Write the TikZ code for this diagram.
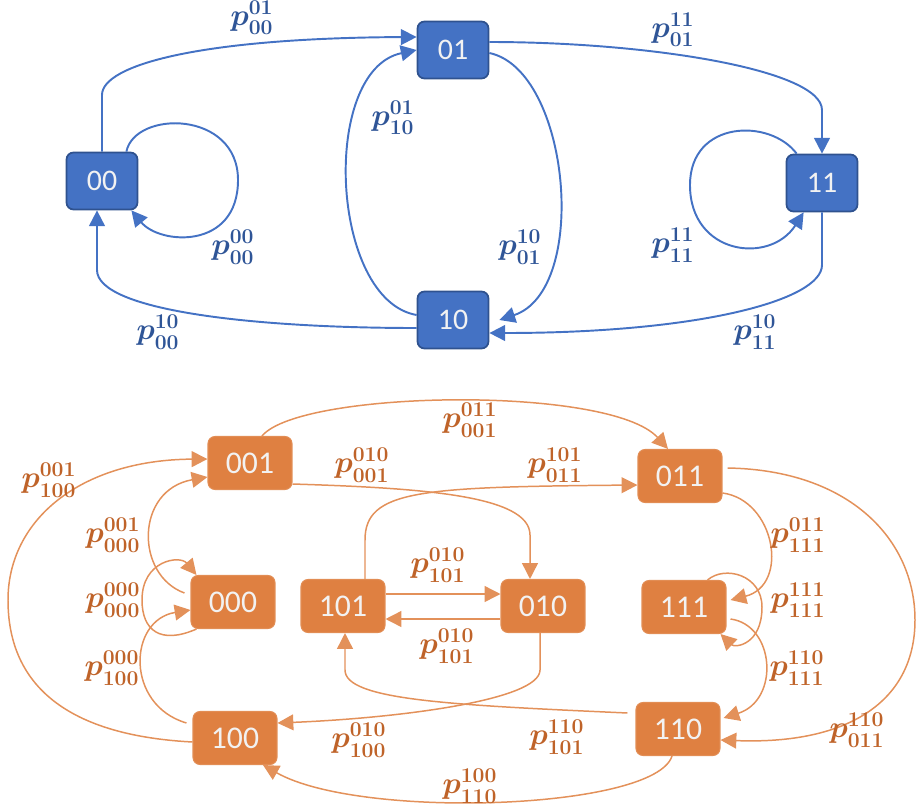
\documentclass[tikz,border=0pt]{standalone}
\usepackage{amsmath}
\usepackage{fontspec}
\usepackage{tikz}
\usetikzlibrary {arrows.meta}
\usetikzlibrary{calc}

\newfontfamily\boxfont{Carlito}
\definecolor{boxblue}{HTML}{4472C4}
\definecolor{rimblue}{HTML}{2F528F}
\definecolor{labblue}{HTML}{2F5597}
\definecolor{boxorange}{HTML}{DF8041}
\definecolor{lineorange}{HTML}{E3915A}
\definecolor{laborange}{HTML}{BF6329}

\tikzset{
	bnode/.style={draw=rimblue, fill=boxblue, line width=1pt, rounded corners=4pt,
		minimum width=1.42cm, minimum height=1.14cm, inner sep=0pt,
		text=white!95!black, font=\boxfont\fontsize{17}{20}\selectfont},
	onode/.style={draw=boxorange!90!white, fill=boxorange, line width=0.6pt, rounded corners=4pt,
		minimum width=1.68cm, minimum height=1.06cm, inner sep=0pt,
		text=white!95!black, font=\boxfont\fontsize{18}{21}\selectfont},
	bline/.style={draw=boxblue, line width=1.1pt, -{Triangle[length=9pt,width=9pt]}},
	oline/.style={draw=lineorange, line width=0.85pt, -{Triangle[length=9pt,width=9pt]}},
	blab/.style={text=labblue, font=\boldmath\fontsize{17}{20}\selectfont},
	olab/.style={text=laborange, font=\boldmath\fontsize{17}{20}\selectfont},
}

\begin{document}
\begin{tikzpicture}[x=0.02cm, y=-0.02cm]
	\useasboundingbox (0,0) rectangle (917,812);

	% two-bit chain
	\node[bnode] (n00) at (102,181) {00};
	\node[bnode] (n01) at (453,50) {01};
	\node[bnode] (n10) at (453,320) {10};
	\node[bnode] (n11) at (822,183) {11};

	\draw[bline] (n00.north) -- (102,95) .. controls (102,65) and (200,38) .. ($(n01.west)+(0,-13)$);
	\draw[bline] ($(n10.west)+(0,-5)$) .. controls (330,300) and (320,70) .. (n01.west);
	\draw[bline] ($(n01.east)+(0,3)$) .. controls (570,70) and (590,290) .. ($(n10.east)+(10,0)$);
	\draw[bline] ($(n01.east)+(0,-8)$) .. controls (650,42) and (822,70) .. (822,110) -- (n11.north);
	\draw[bline] ($(n11.north west)+(11,0)$) .. controls (770,118) and (690,120) .. (690,185)
		.. controls (690,255) and (770,265) .. ($(n11.south west)+(18,0)$);
	\draw[bline] (n11.south) -- (822,265) .. controls (822,300) and (700,333) .. ($(n10.east)+(0,13)$);
	\draw[bline] ($(n00.north east)+(-12,0)$) .. controls (135,110) and (238,110) .. (238,180)
		.. controls (238,250) and (160,245) .. ($(n00.south east)+(-7,0)$);
	\draw[bline] ($(n10.west)+(0,8)$) .. controls (250,328) and (97,310) .. (97,270) -- ($(n00.south)+(-5,0)$);

	\node[blab] (q0001) at (252,18) {$p_{00}^{01}$};
	\node[blab] (q1001) at (393,118) {$p_{10}^{01}$};
	\node[blab] (q0000) at (233,247) {$p_{00}^{00}$};
	\node[blab] (q0010) at (158,332) {$p_{00}^{10}$};
	\node[blab] (q0111) at (673,30) {$p_{01}^{11}$};
	\node[blab] (q0110) at (520,247) {$p_{01}^{10}$};
	\node[blab] (q1111) at (673,245) {$p_{11}^{11}$};
	\node[blab] (q1110) at (755,332) {$p_{11}^{10}$};

	% three-bit chain
	\node[onode] (n001) at (250,463) {001};
	\node[onode] (n000) at (233,602) {000};
	\node[onode] (n101) at (343,606) {101};
	\node[onode] (n010) at (543,606) {010};
	\node[onode] (n011) at (680,476) {011};
	\node[onode] (n111) at (684,607) {111};
	\node[onode] (n110) at (678,729) {110};
	\node[onode] (n100) at (235,738) {100};

	\draw[oline] ($(n001.north)+(12,0)$) .. controls (300,390) and (610,385) .. ($(n011.north)+(-12,0)$);
	\draw[oline] ($(n001.east)+(0,21)$) .. controls (420,488) and (530,495) .. (530,535) -- ($(n010.north)+(-13,0)$);
	\draw[oline] ($(n101.north)+(22,0)$) -- (365,540) .. controls (365,490) and (420,487) .. ($(n011.west)+(0,9)$);
	\draw[oline] ($(n101.east)+(0,-12)$) -- ($(n010.west)+(0,-12)$);
	\draw[oline] ($(n010.west)+(0,13)$) -- ($(n101.east)+(0,13)$);
	\draw[oline] ($(n010.south)+(-3,0)$) -- (540,670) .. controls (540,700) and (400,718) .. ($(n100.east)+(0,-15)$);
	\draw[oline] ($(n110.west)+(-8,-16)$) .. controls (450,705) and (345,700) .. (345,670) -- ($(n101.south)+(2,0)$);
	\draw[oline] ($(n110.south)+(-6,0)$) .. controls (655,810) and (360,820) .. ($(n100.south)+(28,0)$);
	\draw[oline] ($(n100.west)+(0,4)$) .. controls (60,735) and (8,680) .. (8,600)
		.. controls (8,520) and (80,460) .. ($(n001.west)+(0,-4)$);
	\draw[oline] ($(n000.west)+(-6,-9)$) .. controls (135,575) and (135,490) .. ($(n001.west)+(0,14)$);
	\draw[oline] ($(n000.south west)+(6,0)$) .. controls (160,645) and (142,630) .. (142,600)
		.. controls (142,560) and (180,555) .. ($(n000.north west)+(6,0)$);
	\draw[oline] ($(n100.west)+(-6,-15)$) .. controls (125,705) and (128,620) .. ($(n000.west)+(0,8)$);
	\draw[oline] ($(n011.east)+(0,17)$) .. controls (775,500) and (790,585) .. ($(n111.east)+(4,-7)$);
	\draw[oline] ($(n111.north east)+(-19,0)$) .. controls (725,565) and (762,575) .. (762,607)
		.. controls (762,645) and (735,648) .. ($(n111.south east)+(-6,0)$);
	\draw[oline] ($(n111.east)+(4,12)$) .. controls (775,625) and (780,700) .. ($(n110.east)+(3,-11)$);
	\draw[oline] ($(n011.east)+(5,-8)$) .. controls (850,470) and (915,540) .. (915,620)
		.. controls (915,700) and (850,745) .. ($(n110.east)+(0,11)$);

	\node[olab] (q001011) at (470,420) {$p_{001}^{011}$};
	\node[olab] (q001010) at (362,465) {$p_{001}^{010}$};
	\node[olab] (q011101) at (555,465) {$p_{011}^{101}$};
	\node[olab] (q100001) at (49,480) {$p_{100}^{001}$};
	\node[olab] (q000001) at (113,535) {$p_{000}^{001}$};
	\node[olab] (q000000) at (113,600) {$p_{000}^{000}$};
	\node[olab] (q100000) at (112,668) {$p_{100}^{000}$};
	\node[olab] (q101010a) at (438,565) {$p_{101}^{010}$};
	\node[olab] (q101010b) at (447,646) {$p_{101}^{010}$};
	\node[olab] (q100010) at (359,740) {$p_{100}^{010}$};
	\node[olab] (q110100) at (470,786) {$p_{110}^{100}$};
	\node[olab] (q101110) at (557,737) {$p_{101}^{110}$};
	\node[olab] (q111011) at (798,535) {$p_{111}^{011}$};
	\node[olab] (q111111) at (798,600) {$p_{111}^{111}$};
	\node[olab] (q111110) at (797,668) {$p_{111}^{110}$};
	\node[olab] (q011110) at (857,730) {$p_{011}^{110}$};
\end{tikzpicture}
\end{document}
